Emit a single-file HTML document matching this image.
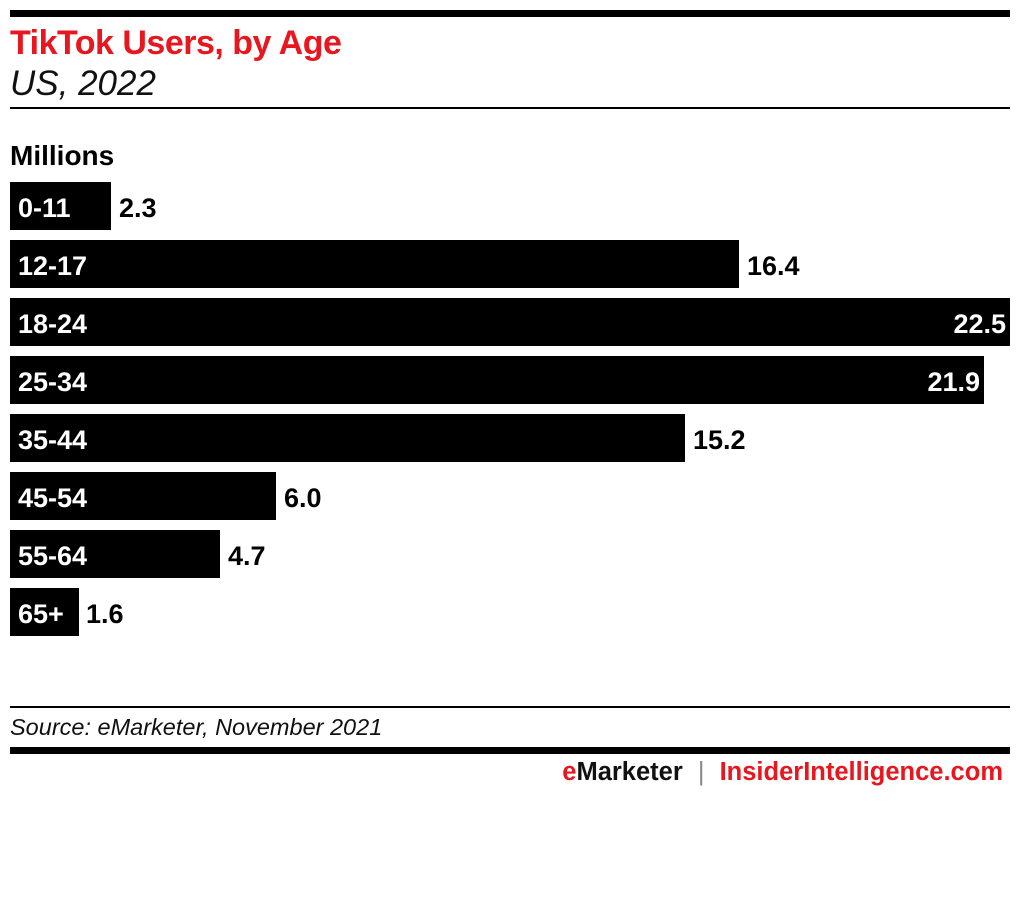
<!DOCTYPE html>
<html><head><meta charset="utf-8"><style>
body{margin:0;width:1020px;height:920px;background:#fff;position:relative;font-family:"Liberation Sans",sans-serif;overflow:hidden}
.a{position:absolute}
.bar{position:absolute;left:10px;height:48px;background:#000}
.lab{position:absolute;left:18px;color:#fff;font-weight:bold;font-size:27px;line-height:52px}
.val{position:absolute;font-weight:bold;font-size:27px;line-height:52px;color:#000}
</style></head><body>
<div class="a" style="left:10px;top:10px;width:1000px;height:7px;background:#000"></div>
<div class="a" style="left:10px;top:24px;font-size:34px;font-weight:bold;color:#e8161e;letter-spacing:-0.5px">TikTok Users, by Age</div>
<div class="a" style="left:10px;top:64px;font-size:35px;font-style:italic;color:#111">US, 2022</div>
<div class="a" style="left:10px;top:107px;width:1000px;height:2px;background:#000"></div>
<div class="a" style="left:10px;top:140px;font-size:28px;font-weight:bold">Millions</div>

<div class="bar" style="top:182px;width:101px"></div><div class="lab" style="top:182px">0-11</div><div class="val" style="top:182px;left:119px">2.3</div>
<div class="bar" style="top:240px;width:729px"></div><div class="lab" style="top:240px">12-17</div><div class="val" style="top:240px;left:747px">16.4</div>
<div class="bar" style="top:298px;width:1000px"></div><div class="lab" style="top:298px">18-24</div><div class="val" style="top:298px;right:14px;color:#fff">22.5</div>
<div class="bar" style="top:356px;width:974px"></div><div class="lab" style="top:356px">25-34</div><div class="val" style="top:356px;right:40px;color:#fff">21.9</div>
<div class="bar" style="top:414px;width:675px"></div><div class="lab" style="top:414px">35-44</div><div class="val" style="top:414px;left:693px">15.2</div>
<div class="bar" style="top:472px;width:266px"></div><div class="lab" style="top:472px">45-54</div><div class="val" style="top:472px;left:284px">6.0</div>
<div class="bar" style="top:530px;width:210px"></div><div class="lab" style="top:530px">55-64</div><div class="val" style="top:530px;left:228px">4.7</div>
<div class="bar" style="top:588px;width:69px"></div><div class="lab" style="top:588px">65+</div><div class="val" style="top:588px;left:86px">1.6</div>

<div class="a" style="left:10px;top:706px;width:1000px;height:2px;background:#000"></div>
<div class="a" style="left:10px;top:714px;font-size:23.5px;font-style:italic;color:#111">Source: eMarketer, November 2021</div>
<div class="a" style="left:10px;top:747px;width:1000px;height:7px;background:#000"></div>
<div class="a" style="right:17px;top:758px;font-size:25.5px;font-weight:bold;white-space:nowrap"><span style="color:#e8161e">e</span><span style="color:#111">Marketer</span> <span style="color:#888;font-weight:normal;margin:0 8px">|</span> <span style="color:#e8161e">InsiderIntelligence.com</span></div>
</body></html>
